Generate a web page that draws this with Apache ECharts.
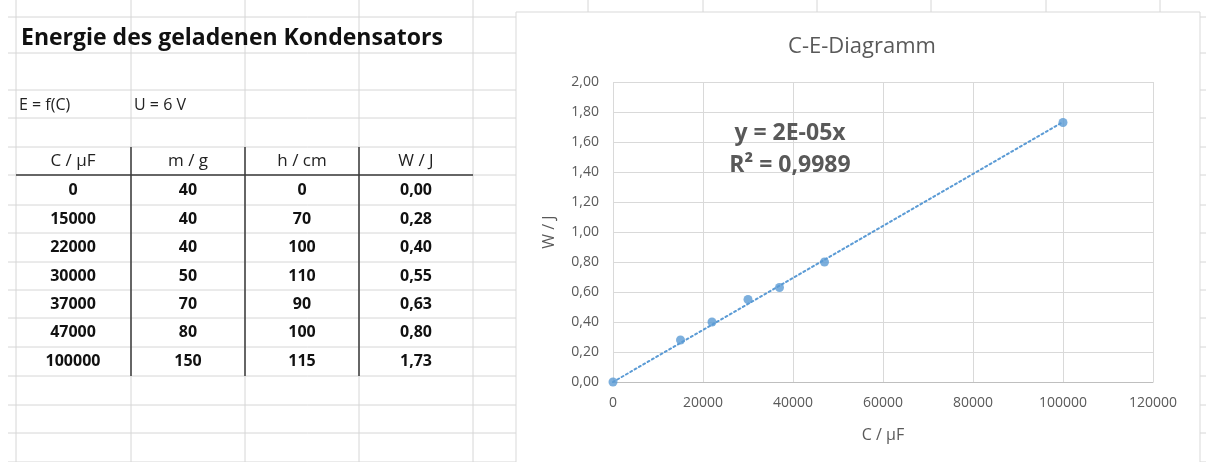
<!DOCTYPE html>
<html><head><meta charset="utf-8">
<script src="https://cdn.jsdelivr.net/npm/echarts@6/dist/echarts.min.js"></script>
<style>html,body{margin:0;padding:0;background:#fff}#c{width:1206px;height:462px}</style>
</head><body><div id="c"></div>
<script>
// ---- data ----
const capacity = [0, 15000, 22000, 30000, 37000, 47000, 100000];   // C / µF
const mass = [40, 40, 40, 50, 70, 80, 150];                          // m / g
const height = [0, 70, 100, 110, 90, 100, 115];                      // h / cm
const energy = [0.00, 0.28, 0.40, 0.55, 0.63, 0.80, 1.73];           // W / J
const headers = ['C / µF', 'm / g', 'h / cm', 'W / J'];
const trendX = [0, 100000];
const trendY = [0, 1.734];
const xTicks = [0, 20000, 40000, 60000, 80000, 100000, 120000];
const yTicks = [0, 0.2, 0.4, 0.6, 0.8, 1.0, 1.2, 1.4, 1.6, 1.8, 2.0];

// ---- layout ----
const colX = [16, 131, 245, 359, 473, 588, 703, 817, 931, 1046, 1160];
const rowY = [17, 53, 90, 118, 147, 175, 205, 233, 262, 290, 318, 347, 376, 405, 433, 462];
const FONT = '"Open Sans", "Noto Sans", sans-serif';
const fmt = v => v.toFixed(2).replace('.', ',');

const g = [];
// sheet gridlines
colX.forEach(x => g.push({type:'line', z:-20, shape:{x1:x, y1:0, x2:x, y2:462}, style:{stroke:'#d6d6d6', lineWidth:1}}));
rowY.forEach(y => g.push({type:'line', z:-20, shape:{x1:8, y1:y, x2:1206, y2:y}, style:{stroke:'#d6d6d6', lineWidth:1}}));
// table borders
[131, 245, 359].forEach(x => g.push({type:'line', z:-15, shape:{x1:x, y1:147, x2:x, y2:376}, style:{stroke:'#3a3a3a', lineWidth:1.5}}));
g.push({type:'line', z:-15, shape:{x1:16, y1:175, x2:473, y2:175}, style:{stroke:'#3a3a3a', lineWidth:1.5}});
// texts
g.push({type:'text', z:10, style:{text:'Energie des geladenen Kondensators', x:21, y:38, fill:'#111', font:'bold 23px ' + FONT, textVerticalAlign:'middle'}});
g.push({type:'text', z:10, style:{text:'E = f(C)', x:19, y:105, fill:'#222', font:'16px ' + FONT, textVerticalAlign:'middle'}});
g.push({type:'text', z:10, style:{text:'U = 6 V', x:134, y:105, fill:'#222', font:'16px ' + FONT, textVerticalAlign:'middle'}});
const colCenters = [73, 188, 302, 416];
headers.forEach((h, i) => g.push({type:'text', z:10, style:{text:h, x:colCenters[i], y:161, fill:'#222', font:'17px ' + FONT, textAlign:'center', textVerticalAlign:'middle'}}));
capacity.forEach((c, r) => {
  const y = (rowY[r + 5] + rowY[r + 6]) / 2;
  const vals = [String(c), String(mass[r]), String(height[r]), fmt(energy[r])];
  vals.forEach((t, i) => g.push({type:'text', z:10, style:{text:t, x:colCenters[i], y:y, fill:'#111', font:'bold 16px ' + FONT, textAlign:'center', textVerticalAlign:'middle'}}));
});
// chart box
g.push({type:'rect', z:-10, shape:{x:516, y:12, width:684, height:452}, style:{fill:'#fff', stroke:'#d9d9d9', lineWidth:1}});
// trendline label
g.push({type:'text', z:10, style:{text:'y = 2E-05x', x:790, y:133, fill:'#595959', font:'bold 23px ' + FONT, textAlign:'center', textVerticalAlign:'middle'}});
g.push({type:'text', z:10, style:{text:'R² = 0,9989', x:790, y:165, fill:'#595959', font:'bold 23px ' + FONT, textAlign:'center', textVerticalAlign:'middle'}});

const chart = echarts.init(document.getElementById('c'));
chart.setOption({
  animation: false,
  backgroundColor: '#fff',
  title: {text:'C-E-Diagramm', left:857, top:31, textAlign:'center', textStyle:{color:'#595959', fontSize:22, fontWeight:'normal', fontFamily:FONT}},
  graphic: g,
  grid: {left:613, top:82, width:540, height:300, containLabel:false},
  xAxis: {
    type:'value', min:xTicks[0], max:xTicks[xTicks.length-1], interval:xTicks[1]-xTicks[0],
    name:'C / µF', nameLocation:'middle', nameGap:45,
    nameTextStyle:{color:'#595959', fontSize:16, fontFamily:FONT},
    axisLine:{show:true, lineStyle:{color:'#bfbfbf'}}, axisTick:{show:false},
    axisLabel:{color:'#595959', fontSize:14, margin:14, fontFamily:FONT, formatter: v => String(v)},
    splitLine:{show:true, lineStyle:{color:'#d9d9d9'}}
  },
  yAxis: {
    type:'value', min:yTicks[0], max:yTicks[yTicks.length-1], interval:0.2,
    name:'W / J', nameLocation:'middle', nameGap:56, nameRotate:90,
    nameTextStyle:{color:'#595959', fontSize:16, fontFamily:FONT},
    axisLine:{show:false}, axisTick:{show:false},
    axisLabel:{color:'#595959', fontSize:14, margin:14, fontFamily:FONT, formatter:fmt},
    splitLine:{show:true, lineStyle:{color:'#d9d9d9'}}
  },
  series: [
    {type:'line', data:trendX.map((x, i) => [x, trendY[i]]), symbol:'none', z:2,
     lineStyle:{color:'#5b9bd5', width:2, type:[2, 3], cap:'round'}},
    {type:'scatter', data:capacity.map((c, i) => [c, energy[i]]), symbol:'circle', symbolSize:9, z:3,
     itemStyle:{color:'#5b9bd5'}}
  ]
});
</script></body></html>
